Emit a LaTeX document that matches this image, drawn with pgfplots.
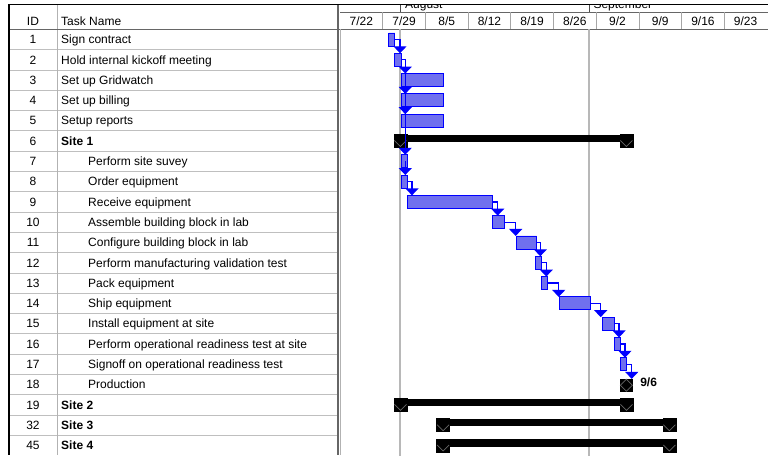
\documentclass[border=0pt]{standalone}
\usepackage{fontspec}
\setmainfont{Liberation Sans}
\usepackage{pgfplots}
\pgfplotsset{compat=1.18}
\usepackage{pgfplotstable}
\usetikzlibrary{arrows.meta}

\definecolor{barfill}{RGB}{112,112,238}
\definecolor{linkblue}{RGB}{0,0,255}

% V drawn inside the summary end caps
\pgfdeclareplotmark{capv}{%
  \pgfpathmoveto{\pgfqpoint{-6pt}{0.5pt}}%
  \pgfpathlineto{\pgfqpoint{0pt}{-5.5pt}}%
  \pgfpathlineto{\pgfqpoint{6pt}{0.5pt}}%
  \pgfusepathqstroke}
% diamond outline inside the milestone square
\pgfdeclareplotmark{msdiamond}{%
  \pgfpathmoveto{\pgfqpoint{0pt}{6pt}}%
  \pgfpathlineto{\pgfqpoint{6pt}{0pt}}%
  \pgfpathlineto{\pgfqpoint{0pt}{-6pt}}%
  \pgfpathlineto{\pgfqpoint{-6pt}{0pt}}%
  \pgfpathclose\pgfusepathqstroke}

% days counted from 7/22
\pgfplotstableread{
row start dur
1  8   1
2  9   1
3  10  7
4  10  7
5  10  7
7  10  1
8  10  1
9  11  14
10 25  2
11 29  3.25
12 32  1
13 33  1
14 36  5
15 43  2
16 45  1
17 46  1
}\tasks

\pgfplotstableread{
x     row
9.9   6
46.95 6
9.9   19
46.95 19
16.9  20
54    20
16.9  21
54    21
}\caps

\pgfplotsset{gantt/.style={at={(340pt,-29.3pt)}, anchor=north west,
  scale only axis, width=427pt, height=426.3pt,
  xmin=0, xmax=70, ymin=0.5, ymax=21.5, y dir=reverse,
  axis line style={draw=none}, xtick=\empty, ytick=\empty, clip=false}}

\newcommand{\trow}[4]{%
  \node[anchor=base, inner sep=0] at (33,{39.45+20.3*(#1-1)+4.3}) {#2};
  \node[anchor=base west, inner sep=0] at (#3,{39.45+20.3*(#1-1)+4.3}) {#4};}

\begin{document}
\begin{tikzpicture}[x=1pt, y=-1pt, every node/.style={font=\fontsize{12}{14}\selectfont}]
\path[use as bounding box] (0,0) rectangle (768,455);

% table grid
\foreach \k in {1,...,20}
  \draw[black!25, line width=0.8pt] (9,{29.3+20.3*\k}) -- (337,{29.3+20.3*\k});
\draw[black!30, line width=0.8pt] (57,5) -- (57,455);
\draw[black!60, line width=1pt] (9,29.3) -- (768,29.3);
\draw[black!60, line width=1pt] (340,12.3) -- (768,12.3);
\foreach \k in {1,...,9}
  \draw[black!35, line width=0.8pt] ({340+42.7*\k},12.3) -- ({340+42.7*\k},29.3);
\draw[black!70, line width=0.8pt] (400,5) -- (400,12.3);
\draw[black!70, line width=0.8pt] (589.3,5) -- (589.3,12.3);
\draw[black!60, line width=1.5pt] (338,4.5) -- (338,455);
\draw[black!30, line width=0.8pt] (340.5,29.3) -- (340.5,455);
\draw[black, line width=1.8pt] (8,4.5) -- (768,4.5);
\draw[black, line width=2pt] (8.8,4.5) -- (8.8,455);

% month tier, cut off at the top
\begin{scope}
  \clip (341,5.4) rectangle (768,11.8);
  \node[anchor=base west, inner sep=0] at (405,8.4) {August};
  \node[anchor=base west, inner sep=0] at (593.3,8.4) {September};
\end{scope}

% week tier
\node[anchor=base, inner sep=0] at (361.35,25) {7/22};
\node[anchor=base, inner sep=0] at (404.05,25) {7/29};
\node[anchor=base, inner sep=0] at (446.75,25) {8/5};
\node[anchor=base, inner sep=0] at (489.45,25) {8/12};
\node[anchor=base, inner sep=0] at (532.15,25) {8/19};
\node[anchor=base, inner sep=0] at (574.85,25) {8/26};
\node[anchor=base, inner sep=0] at (617.55,25) {9/2};
\node[anchor=base, inner sep=0] at (660.25,25) {9/9};
\node[anchor=base, inner sep=0] at (702.95,25) {9/16};
\node[anchor=base, inner sep=0] at (745.65,25) {9/23};

\node[anchor=base, inner sep=0] at (33,25.3) {ID};
\node[anchor=base west, inner sep=0] at (61,25.3) {Task Name};

\trow{1}{1}{61}{Sign contract}
\trow{2}{2}{61}{Hold internal kickoff meeting}
\trow{3}{3}{61}{Set up Gridwatch}
\trow{4}{4}{61}{Set up billing}
\trow{5}{5}{61}{Setup reports}
\trow{6}{6}{61}{\bfseries Site 1}
\trow{7}{7}{88}{Perform site suvey}
\trow{8}{8}{88}{Order equipment}
\trow{9}{9}{88}{Receive equipment}
\trow{10}{10}{88}{Assemble building block in lab}
\trow{11}{11}{88}{Configure building block in lab}
\trow{12}{12}{88}{Perform manufacturing validation test}
\trow{13}{13}{88}{Pack equipment}
\trow{14}{14}{88}{Ship equipment}
\trow{15}{15}{88}{Install equipment at site}
\trow{16}{16}{88}{Perform operational readiness test at site}
\trow{17}{17}{88}{Signoff on operational readiness test}
\trow{18}{18}{88}{Production}
\trow{19}{19}{61}{\bfseries Site 2}
\trow{20}{32}{61}{\bfseries Site 3}
\trow{21}{45}{61}{\bfseries Site 4}

% month lines, summary bars, milestone
\begin{axis}[gantt, extra x ticks={9.84,40.87}, extra x tick labels={},
  extra x tick style={grid=major, major tick length=0pt,
    major grid style={black!28, line width=1.8pt}}]
\addplot[black, line width=7.5pt] coordinates {(8.83,5.877) (48.02,5.877)};
\addplot[black, line width=7.5pt] coordinates {(8.83,18.877) (48.02,18.877)};
\addplot[black, line width=7.5pt] coordinates {(15.83,19.877) (55.07,19.877)};
\addplot[black, line width=7.5pt] coordinates {(15.83,20.877) (55.07,20.877)};
\addplot[only marks, mark=square*, mark size=6.5pt, black] table[x=x, y=row] {\caps};
\addplot[only marks, mark=capv, mark options={draw=black!60, line width=0.7pt}] table[x=x, y=row] {\caps};
\addplot[only marks, mark=square*, mark size=6.3pt, black] coordinates {(46.95,18.03)};
\addplot[only marks, mark=msdiamond, mark options={draw=black!60, line width=0.7pt}] coordinates {(46.95,18.03)};
\end{axis}

% task bars
\begin{axis}[gantt, xbar stacked, bar width=13pt]
\addplot[draw=none, fill=none] table[x=start, y=row] {\tasks};
\addplot[fill=barfill, draw=linkblue, line width=0.9pt] table[x=dur, y=row] {\tasks};
\end{axis}

% links
\begin{axis}[gantt, link/.style={linkblue, line width=1.3pt, -{Triangle[width=13pt,length=7pt]}}]
\addplot[link] coordinates {(9,1) (9.84,1) (9.84,1.68)};
\addplot[link] coordinates {(10,2) (10.7,2) (10.7,2.68)};
\addplot[link] coordinates {(10.7,2) (10.7,3.68)};
\addplot[link] coordinates {(10.7,2) (10.7,4.68)};
\addplot[link] coordinates {(10.7,2) (10.7,6.68)};
\addplot[link] coordinates {(10.7,7) (10.7,7.68)};
\addplot[link] coordinates {(11,8) (11.8,8) (11.8,8.68)};
\addplot[link] coordinates {(25,9) (25.85,9) (25.85,9.68)};
\addplot[link] coordinates {(27,10) (28.8,10) (28.8,10.68)};
\addplot[link] coordinates {(32.25,11) (32.84,11) (32.84,11.68)};
\addplot[link] coordinates {(33,12) (33.82,12) (33.82,12.68)};
\addplot[link] coordinates {(34,13) (35.85,13) (35.85,13.68)};
\addplot[link] coordinates {(41,14) (42.74,14) (42.74,14.68)};
\addplot[link] coordinates {(45,15) (45.74,15) (45.74,15.68)};
\addplot[link] coordinates {(46,16) (46.72,16) (46.72,16.68)};
\addplot[link] coordinates {(47,17) (47.82,17) (47.82,17.72)};
\node[anchor=west, inner sep=0, font=\fontsize{12}{14}\selectfont\bfseries] at (axis cs:49.2,17.9) {9/6};
\end{axis}
\end{tikzpicture}
\end{document}
